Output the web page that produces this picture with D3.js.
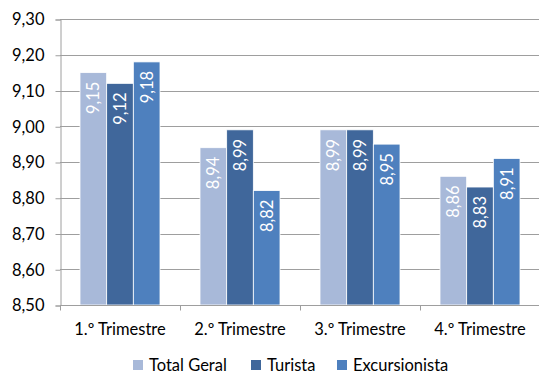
<!DOCTYPE html>
<html>
<head>
<meta charset="utf-8">
<script src="https://cdn.jsdelivr.net/npm/d3@7"></script>
<style>
  body { margin: 0; background: #fff; }
  text { font-family: Lato, "Open Sans", sans-serif; fill: #000; }
</style>
</head>
<body>
<svg id="chart" width="539" height="376"></svg>
<script>
var trimestres = ["1.º Trimestre", "2.º Trimestre", "3.º Trimestre", "4.º Trimestre"];
var seriesNames = ["Total Geral", "Turista", "Excursionista"];
var totalGeral = [9.15, 8.94, 8.99, 8.86];
var turista = [9.12, 8.99, 8.99, 8.83];
var excursionista = [9.18, 8.82, 8.95, 8.91];
var yTicks = [8.5, 8.6, 8.7, 8.8, 8.9, 9.0, 9.1, 9.2, 9.3];
var colors = ["#A8B9D9", "#40679B", "#4E80BE"];

var seriesValues = [totalGeral, turista, excursionista];
var comma = function(v) { return d3.format(".2f")(v).replace(".", ","); };
var fontSize = "16.5px";

var svg = d3.select("svg#chart");

/* scales */
var xScale = d3.scaleBand()
  .domain(trimestres)
  .range([60, 540]);

var seriesScale = d3.scaleBand()
  .domain(seriesNames)
  .range([20, xScale.bandwidth() - 20]);

var yScale = d3.scaleLinear()
  .domain([8.5, 9.3])
  .range([305, 19]);

// grid
svg.append("g")
  .attr("class", "grid")
  .selectAll("line")
  .data(yTicks)
  .enter().append("line")
  .attr("x1", 60)
  .attr("x2", 540)
  .attr("y1", function(d) { return Math.round(yScale(d)) + 0.5; })
  .attr("y2", function(d) { return Math.round(yScale(d)) + 0.5; })
  .attr("stroke", "#9e9e9e")
  .attr("stroke-width", 1.2);

// bars
var groups = svg.append("g").attr("id", "bars")
  .selectAll("g")
  .data(trimestres)
  .enter().append("g")
  .attr("transform", function(d) { return "translate(" + xScale(d) + ",0)"; });

groups.selectAll("rect")
  .data(function(d, i) {
    return seriesNames.map(function(s, j) { return { name: s, value: seriesValues[j][i], idx: j }; });
  })
  .enter().append("rect")
  .attr("x", function(d) { return seriesScale(d.name); })
  .attr("width", seriesScale.bandwidth())
  .attr("y", function(d) { return yScale(d.value); })
  .attr("height", function(d) { return yScale(8.5) - yScale(d.value); })
  .attr("fill", function(d) { return colors[d.idx]; })
  .attr("stroke", "#fff")
  .attr("stroke-width", 0.8);

// labels in bars
groups.selectAll("text")
  .data(function(d, i) {
    return seriesNames.map(function(s, j) { return { name: s, value: seriesValues[j][i] }; });
  })
  .enter().append("text")
  .attr("transform", function(d) {
    var cx = seriesScale(d.name) + seriesScale.bandwidth() / 2 + 6;
    var cy = yScale(d.value) + 9;
    return "translate(" + cx + "," + cy + ") rotate(-90)";
  })
  .attr("text-anchor", "end")
  .style("font-size", fontSize)
  .style("fill", "#fff")
  .text(function(d) { return comma(d.value); });

// y axis
var yAxis = d3.axisLeft(yScale)
  .tickValues(yTicks)
  .tickSize(5)
  .tickPadding(11)
  .tickFormat(comma);

svg.append("g")
  .attr("id", "y-axis")
  .attr("transform", "translate(60.5,0.5)")
  .call(yAxis)
  .call(function(g) {
    g.select(".domain").attr("stroke", "#9e9e9e");
    g.selectAll(".tick line").attr("stroke", "#9e9e9e");
    g.selectAll("text").style("font-size", fontSize).attr("fill", "#000");
  });

// x axis
var xAxis = d3.axisBottom(xScale).tickSize(0).tickPadding(18);
var xg = svg.append("g")
  .attr("id", "x-axis")
  .attr("transform", "translate(0,305.5)")
  .call(xAxis);
xg.select(".domain").attr("stroke", "#9e9e9e").attr("d", "M60,0H540");
xg.selectAll("text").style("font-size", fontSize).attr("fill", "#000");
xg.selectAll(".sep")
  .data(trimestres.concat([null]))
  .enter().append("line")
  .attr("x1", function(d) { return d === null ? 540.5 : Math.round(xScale(d)) + 0.5; })
  .attr("x2", function(d) { return d === null ? 540.5 : Math.round(xScale(d)) + 0.5; })
  .attr("y1", 0)
  .attr("y2", 5)
  .attr("stroke", "#9e9e9e");

// legend
var legendX = [133, 251, 337];
var legend = svg.append("g").attr("id", "legend")
  .selectAll("g")
  .data(seriesNames)
  .enter().append("g")
  .attr("transform", function(d, i) { return "translate(" + legendX[i] + ",360)"; });

legend.append("rect")
  .attr("width", 10)
  .attr("height", 10)
  .attr("fill", function(d, i) { return colors[i]; });

legend.append("text")
  .attr("x", 16)
  .attr("y", 11)
  .style("font-size", fontSize)
  .text(function(d) { return d; });
</script>
</body>
</html>
